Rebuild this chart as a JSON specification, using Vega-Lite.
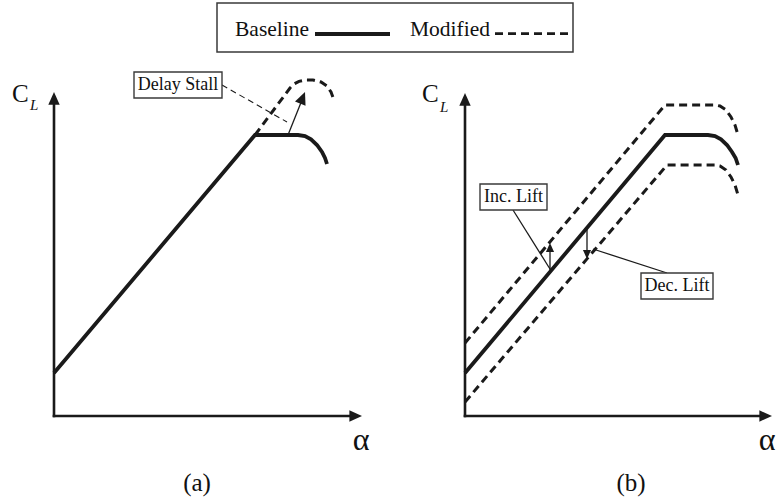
{
  "$schema": "https://vega.github.io/schema/vega-lite/v6.json",
  "padding": 0,
  "autosize": {"type": "pad"},
  "background": "white",
  "spacing": 0,
  "bounds": "flush",
  "config": {"view": {"stroke": null}, "font": "Liberation Serif", "concat": {"spacing": 0}},
  "datasets": {
    "legendBox": [{"u": 10.85, "u2": 28.65, "v": 0.3, "v2": 2.75}],
    "legendKeys": [
      {"s": "Baseline", "u": 15.75, "u2": 19.5, "v": 1.2},
      {"s": "Modified", "u": 24.75, "u2": 28.5, "v": 1.22}
    ],
    "legendLabels": [
      {"t": "Baseline", "u": 11.75, "v": 1.1},
      {"t": "Modified", "u": 20.5, "v": 1.1}
    ],
    "axes": [
      {"p": "a", "a": 0, "cl": 0, "a2": 0, "cl2": 15.8},
      {"p": "a", "a": 0, "cl": 0, "a2": 15.0, "cl2": 0},
      {"p": "b", "a": 0, "cl": 0, "a2": 0, "cl2": 15.75},
      {"p": "b", "a": 0, "cl": 0, "a2": 14.95, "cl2": 0}
    ],
    "heads": [
      {"p": "a", "k": "big", "a": 0, "cl": 16.2, "dir": 0},
      {"p": "a", "k": "big", "a": 15.4, "cl": 0, "dir": 90},
      {"p": "a", "k": "big", "a": 12.55, "cl": 16.2, "dir": 22},
      {"p": "b", "k": "big", "a": 0, "cl": 16.15, "dir": 0},
      {"p": "b", "k": "big", "a": 15.35, "cl": 0, "dir": 90},
      {"p": "b", "k": "small", "a": 4.25, "cl": 8.65, "dir": 0},
      {"p": "b", "k": "small", "a": 6.1, "cl": 7.85, "dir": 180}
    ],
    "curves": [
      {"p": "a", "s": "Baseline", "c": "a0", "i": 0, "a": 0, "cl": 2.15},
      {"p": "a", "s": "Baseline", "c": "a0", "i": 1, "a": 10.05, "cl": 14.05},
      {"p": "a", "s": "Baseline", "c": "a0", "i": 2, "a": 12.2, "cl": 14.05},
      {"p": "a", "s": "Baseline", "c": "a0", "i": 3, "a": 12.55, "cl": 14.0},
      {"p": "a", "s": "Baseline", "c": "a0", "i": 4, "a": 12.85, "cl": 13.83},
      {"p": "a", "s": "Baseline", "c": "a0", "i": 5, "a": 13.15, "cl": 13.55},
      {"p": "a", "s": "Baseline", "c": "a0", "i": 6, "a": 13.4, "cl": 13.2},
      {"p": "a", "s": "Baseline", "c": "a0", "i": 7, "a": 13.55, "cl": 12.9},
      {"p": "a", "s": "Baseline", "c": "a0", "i": 8, "a": 13.65, "cl": 12.6},
      {"p": "a", "s": "Modified", "c": "a1", "i": 0, "a": 10.05, "cl": 14.05},
      {"p": "a", "s": "Modified", "c": "a1", "i": 1, "a": 11.8, "cl": 16.4},
      {"p": "a", "s": "Modified", "c": "a1", "i": 2, "a": 12.0, "cl": 16.6},
      {"p": "a", "s": "Modified", "c": "a1", "i": 3, "a": 12.25, "cl": 16.73},
      {"p": "a", "s": "Modified", "c": "a1", "i": 4, "a": 12.55, "cl": 16.8},
      {"p": "a", "s": "Modified", "c": "a1", "i": 5, "a": 12.95, "cl": 16.8},
      {"p": "a", "s": "Modified", "c": "a1", "i": 6, "a": 13.35, "cl": 16.7},
      {"p": "a", "s": "Modified", "c": "a1", "i": 7, "a": 13.65, "cl": 16.5},
      {"p": "a", "s": "Modified", "c": "a1", "i": 8, "a": 13.85, "cl": 16.2},
      {"p": "a", "s": "Modified", "c": "a1", "i": 9, "a": 14.0, "cl": 15.8},
      {"p": "b", "s": "Baseline", "c": "b0", "i": 0, "a": 0, "cl": 2.15},
      {"p": "b", "s": "Baseline", "c": "b0", "i": 1, "a": 10.0, "cl": 14.05},
      {"p": "b", "s": "Baseline", "c": "b0", "i": 2, "a": 12.15, "cl": 14.05},
      {"p": "b", "s": "Baseline", "c": "b0", "i": 3, "a": 12.5, "cl": 14.0},
      {"p": "b", "s": "Baseline", "c": "b0", "i": 4, "a": 12.8, "cl": 13.83},
      {"p": "b", "s": "Baseline", "c": "b0", "i": 5, "a": 13.1, "cl": 13.55},
      {"p": "b", "s": "Baseline", "c": "b0", "i": 6, "a": 13.35, "cl": 13.2},
      {"p": "b", "s": "Baseline", "c": "b0", "i": 7, "a": 13.53, "cl": 12.9},
      {"p": "b", "s": "Baseline", "c": "b0", "i": 8, "a": 13.65, "cl": 12.55},
      {"p": "b", "s": "Modified", "c": "b1", "i": 0, "a": 0, "cl": 3.65},
      {"p": "b", "s": "Modified", "c": "b1", "i": 1, "a": 10.0, "cl": 15.55},
      {"p": "b", "s": "Modified", "c": "b1", "i": 2, "a": 12.5, "cl": 15.55},
      {"p": "b", "s": "Modified", "c": "b1", "i": 3, "a": 12.75, "cl": 15.5},
      {"p": "b", "s": "Modified", "c": "b1", "i": 4, "a": 13.05, "cl": 15.3},
      {"p": "b", "s": "Modified", "c": "b1", "i": 5, "a": 13.3, "cl": 14.95},
      {"p": "b", "s": "Modified", "c": "b1", "i": 6, "a": 13.5, "cl": 14.55},
      {"p": "b", "s": "Modified", "c": "b1", "i": 7, "a": 13.65, "cl": 14.05},
      {"p": "b", "s": "Modified", "c": "b2", "i": 0, "a": 0, "cl": 0.7},
      {"p": "b", "s": "Modified", "c": "b2", "i": 1, "a": 10.1, "cl": 12.55},
      {"p": "b", "s": "Modified", "c": "b2", "i": 2, "a": 12.5, "cl": 12.55},
      {"p": "b", "s": "Modified", "c": "b2", "i": 3, "a": 12.75, "cl": 12.5},
      {"p": "b", "s": "Modified", "c": "b2", "i": 4, "a": 13.05, "cl": 12.3},
      {"p": "b", "s": "Modified", "c": "b2", "i": 5, "a": 13.3, "cl": 11.95},
      {"p": "b", "s": "Modified", "c": "b2", "i": 6, "a": 13.5, "cl": 11.55},
      {"p": "b", "s": "Modified", "c": "b2", "i": 7, "a": 13.65, "cl": 11.05}
    ],
    "leaders": [
      {"p": "a", "s": "solid", "a": 11.7, "cl": 14.05, "a2": 12.4, "cl2": 15.8},
      {"p": "a", "s": "dashed", "a": 8.4, "cl": 16.55, "a2": 11.65, "cl2": 14.7},
      {"p": "b", "s": "solid", "a": 4.25, "cl": 7.2, "a2": 4.25, "cl2": 8.4},
      {"p": "b", "s": "solid", "a": 6.1, "cl": 9.4, "a2": 6.1, "cl2": 8.1},
      {"p": "b", "s": "solid", "a": 2.4, "cl": 10.3, "a2": 4.25, "cl2": 7.35},
      {"p": "b", "s": "solid", "a": 10.1, "cl": 7.15, "a2": 6.4, "cl2": 8.35}
    ],
    "boxes": [
      {"p": "a", "t": "Delay Stall", "a": 4.0, "a2": 8.4, "cl": 15.9, "cl2": 17.2, "ca": 6.2, "ccl": 16.55},
      {"p": "b", "t": "Inc. Lift", "a": 0.75, "a2": 4.1, "cl": 10.3, "cl2": 11.6, "ca": 2.43, "ccl": 10.95},
      {"p": "b", "t": "Dec. Lift", "a": 8.8, "a2": 12.4, "cl": 5.85, "cl2": 7.15, "ca": 10.6, "ccl": 6.5}
    ],
    "labels": [
      {"p": "a", "k": "C", "t": "C", "a": -2.1, "cl": 15.7},
      {"p": "a", "k": "sub", "t": "L", "a": -1.2, "cl": 15.3},
      {"p": "a", "k": "alpha", "t": "α", "a": 15.35, "cl": -1.2},
      {"p": "a", "k": "panel", "t": "(a)", "a": 7.15, "cl": -3.35},
      {"p": "b", "k": "C", "t": "C", "a": -2.15, "cl": 15.7},
      {"p": "b", "k": "sub", "t": "L", "a": -1.25, "cl": 15.2},
      {"p": "b", "k": "alpha", "t": "α", "a": 15.1, "cl": -1.2},
      {"p": "b", "k": "panel", "t": "(b)", "a": 8.3, "cl": -3.35}
    ]
  },
  "vconcat": [
    {
      "width": 776,
      "height": 58,
      "encoding": {
        "x": {"field": "u", "type": "quantitative", "scale": {"domain": [0, 38.8], "nice": false, "zero": false}, "axis": null},
        "y": {"field": "v", "type": "quantitative", "scale": {"domain": [0, 2.9], "nice": false, "zero": false}, "axis": null}
      },
      "layer": [
        {"data": {"name": "legendBox"}, "mark": {"type": "rect", "fill": "white", "stroke": "#3a3a3a", "strokeWidth": 1.5}, "encoding": {"x2": {"field": "u2"}, "y2": {"field": "v2"}}},
        {"data": {"name": "legendKeys"}, "transform": [{"filter": "datum.s === 'Baseline'"}], "mark": {"type": "rule", "color": "#1a1a1a", "strokeWidth": 3.8}, "encoding": {"x2": {"field": "u2"}}},
        {"data": {"name": "legendKeys"}, "transform": [{"filter": "datum.s === 'Modified'"}], "mark": {"type": "rule", "color": "#1a1a1a", "strokeWidth": 2.8, "strokeDash": [8, 5]}, "encoding": {"x2": {"field": "u2"}}},
        {"data": {"name": "legendLabels"}, "mark": {"type": "text", "align": "left", "baseline": "alphabetic", "fontSize": 21.5, "color": "#111"}, "encoding": {"text": {"field": "t"}}}
      ]
    },
    {
      "hconcat": [
        {
          "width": 411,
          "height": 443,
          "encoding": {
            "x": {"field": "a", "type": "quantitative", "scale": {"domain": [-2.7, 17.85], "nice": false, "zero": false}, "axis": null},
            "y": {"field": "cl", "type": "quantitative", "scale": {"domain": [-4.25, 17.9], "nice": false, "zero": false}, "axis": null}
          },
          "layer": [
            {"data": {"name": "axes"}, "transform": [{"filter": "datum.p === 'a'"}], "mark": {"type": "rule", "color": "#1a1a1a", "strokeWidth": 2.6, "strokeCap": "square"}, "encoding": {"x2": {"field": "a2"}, "y2": {"field": "cl2"}}},
            {"data": {"name": "curves"}, "transform": [{"filter": "datum.p === 'a' && datum.s === 'Baseline'"}], "mark": {"type": "line", "color": "#1a1a1a", "strokeWidth": 3.8, "strokeJoin": "miter"}, "encoding": {"detail": {"field": "c"}, "order": {"field": "i"}}},
            {"data": {"name": "curves"}, "transform": [{"filter": "datum.p === 'a' && datum.s === 'Modified'"}], "mark": {"type": "line", "color": "#1a1a1a", "strokeWidth": 3, "strokeDash": [8, 5], "strokeJoin": "miter"}, "encoding": {"detail": {"field": "c"}, "order": {"field": "i"}}},
            {"data": {"name": "leaders"}, "transform": [{"filter": "datum.p === 'a' && datum.s === 'solid'"}], "mark": {"type": "rule", "color": "#1a1a1a", "strokeWidth": 1.3}, "encoding": {"x2": {"field": "a2"}, "y2": {"field": "cl2"}}},
            {"data": {"name": "leaders"}, "transform": [{"filter": "datum.p === 'a' && datum.s === 'dashed'"}], "mark": {"type": "rule", "color": "#1a1a1a", "strokeWidth": 1.1, "strokeDash": [6, 4]}, "encoding": {"x2": {"field": "a2"}, "y2": {"field": "cl2"}}},
            {"data": {"name": "heads"}, "transform": [{"filter": "datum.p === 'a' && datum.k === 'big'"}], "mark": {"type": "point", "filled": true, "opacity": 1, "color": "#1a1a1a", "shape": "M0,0L0.9,2L-0.9,2Z", "size": 160}, "encoding": {"angle": {"field": "dir", "type": "quantitative", "scale": null}}},
            {"data": {"name": "boxes"}, "transform": [{"filter": "datum.p === 'a'"}], "mark": {"type": "rect", "fill": "white", "stroke": "#3a3a3a", "strokeWidth": 1.4}, "encoding": {"x2": {"field": "a2"}, "y2": {"field": "cl2"}}},
            {"data": {"name": "boxes"}, "transform": [{"filter": "datum.p === 'a'"}], "mark": {"type": "text", "fontSize": 18, "baseline": "middle", "align": "center", "color": "#111"}, "encoding": {"x": {"field": "ca", "type": "quantitative"}, "y": {"field": "ccl", "type": "quantitative"}, "text": {"field": "t"}}},
            {"data": {"name": "labels"}, "transform": [{"filter": "datum.p === 'a' && datum.k === 'C'"}], "mark": {"type": "text", "fontSize": 25, "align": "left", "baseline": "alphabetic", "color": "#111"}, "encoding": {"text": {"field": "t"}}},
            {"data": {"name": "labels"}, "transform": [{"filter": "datum.p === 'a' && datum.k === 'sub'"}], "mark": {"type": "text", "fontSize": 15, "fontStyle": "italic", "align": "left", "baseline": "alphabetic", "color": "#111"}, "encoding": {"text": {"field": "t"}}},
            {"data": {"name": "labels"}, "transform": [{"filter": "datum.p === 'a' && datum.k === 'alpha'"}], "mark": {"type": "text", "fontSize": 32, "align": "center", "baseline": "middle", "color": "#111"}, "encoding": {"text": {"field": "t"}}},
            {"data": {"name": "labels"}, "transform": [{"filter": "datum.p === 'a' && datum.k === 'panel'"}], "mark": {"type": "text", "fontSize": 25, "align": "center", "baseline": "middle", "color": "#111"}, "encoding": {"text": {"field": "t"}}}
          ]
        },
        {
          "width": 365,
          "height": 443,
          "encoding": {
            "x": {"field": "a", "type": "quantitative", "scale": {"domain": [-2.7, 15.55], "nice": false, "zero": false}, "axis": null},
            "y": {"field": "cl", "type": "quantitative", "scale": {"domain": [-4.25, 17.9], "nice": false, "zero": false}, "axis": null}
          },
          "layer": [
            {"data": {"name": "axes"}, "transform": [{"filter": "datum.p === 'b'"}], "mark": {"type": "rule", "color": "#1a1a1a", "strokeWidth": 2.6, "strokeCap": "square"}, "encoding": {"x2": {"field": "a2"}, "y2": {"field": "cl2"}}},
            {"data": {"name": "curves"}, "transform": [{"filter": "datum.p === 'b' && datum.s === 'Baseline'"}], "mark": {"type": "line", "color": "#1a1a1a", "strokeWidth": 3.8, "strokeJoin": "miter"}, "encoding": {"detail": {"field": "c"}, "order": {"field": "i"}}},
            {"data": {"name": "curves"}, "transform": [{"filter": "datum.p === 'b' && datum.s === 'Modified'"}], "mark": {"type": "line", "color": "#1a1a1a", "strokeWidth": 3, "strokeDash": [8, 5], "strokeJoin": "miter"}, "encoding": {"detail": {"field": "c"}, "order": {"field": "i"}}},
            {"data": {"name": "leaders"}, "transform": [{"filter": "datum.p === 'b' && datum.s === 'solid'"}], "mark": {"type": "rule", "color": "#1a1a1a", "strokeWidth": 1.3}, "encoding": {"x2": {"field": "a2"}, "y2": {"field": "cl2"}}},
            {"data": {"name": "heads"}, "transform": [{"filter": "datum.p === 'b' && datum.k === 'big'"}], "mark": {"type": "point", "filled": true, "opacity": 1, "color": "#1a1a1a", "shape": "M0,0L0.9,2L-0.9,2Z", "size": 160}, "encoding": {"angle": {"field": "dir", "type": "quantitative", "scale": null}}},
            {"data": {"name": "heads"}, "transform": [{"filter": "datum.p === 'b' && datum.k === 'small'"}], "mark": {"type": "point", "filled": true, "opacity": 1, "color": "#1a1a1a", "shape": "M0,0L0.9,2L-0.9,2Z", "size": 81}, "encoding": {"angle": {"field": "dir", "type": "quantitative", "scale": null}}},
            {"data": {"name": "boxes"}, "transform": [{"filter": "datum.p === 'b'"}], "mark": {"type": "rect", "fill": "white", "stroke": "#3a3a3a", "strokeWidth": 1.4}, "encoding": {"x2": {"field": "a2"}, "y2": {"field": "cl2"}}},
            {"data": {"name": "boxes"}, "transform": [{"filter": "datum.p === 'b'"}], "mark": {"type": "text", "fontSize": 18, "baseline": "middle", "align": "center", "color": "#111"}, "encoding": {"x": {"field": "ca", "type": "quantitative"}, "y": {"field": "ccl", "type": "quantitative"}, "text": {"field": "t"}}},
            {"data": {"name": "labels"}, "transform": [{"filter": "datum.p === 'b' && datum.k === 'C'"}], "mark": {"type": "text", "fontSize": 25, "align": "left", "baseline": "alphabetic", "color": "#111"}, "encoding": {"text": {"field": "t"}}},
            {"data": {"name": "labels"}, "transform": [{"filter": "datum.p === 'b' && datum.k === 'sub'"}], "mark": {"type": "text", "fontSize": 15, "fontStyle": "italic", "align": "left", "baseline": "alphabetic", "color": "#111"}, "encoding": {"text": {"field": "t"}}},
            {"data": {"name": "labels"}, "transform": [{"filter": "datum.p === 'b' && datum.k === 'alpha'"}], "mark": {"type": "text", "fontSize": 32, "align": "center", "baseline": "middle", "color": "#111"}, "encoding": {"text": {"field": "t"}}},
            {"data": {"name": "labels"}, "transform": [{"filter": "datum.p === 'b' && datum.k === 'panel'"}], "mark": {"type": "text", "fontSize": 25, "align": "center", "baseline": "middle", "color": "#111"}, "encoding": {"text": {"field": "t"}}}
          ]
        }
      ],
      "spacing": 0,
      "bounds": "flush"
    }
  ]
}
